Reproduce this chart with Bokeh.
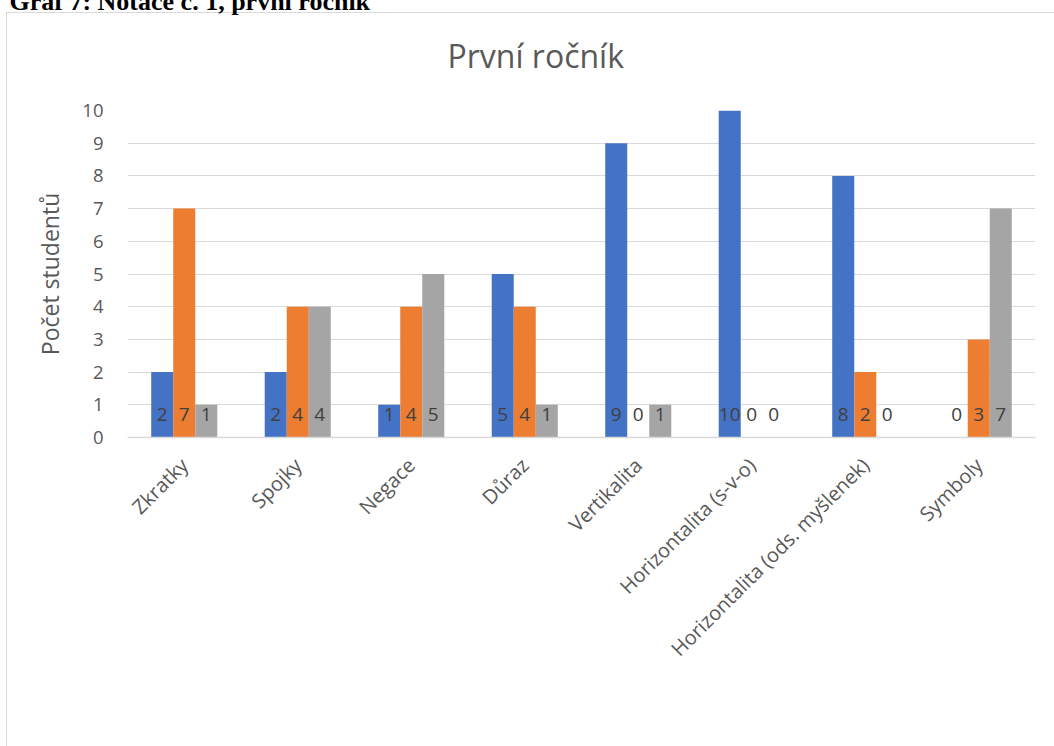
from math import pi

from bokeh.core.properties import value
from bokeh.embed import file_html
from bokeh.models import (ColumnDataSource, FixedTicker, Legend, LegendItem,
                          Title)
from bokeh.plotting import figure
from bokeh.resources import INLINE
from bokeh.transform import dodge

# Chart data
categories = ["Zkratky", "Spojky", "Negace", "Důraz", "Vertikalita",
              "Horizontalita (s-v-o)", "Horizontalita (ods. myšlenek)", "Symboly"]
nulty = [2, 2, 1, 5, 9, 10, 8, 0]
prvni = [7, 4, 4, 4, 0, 0, 2, 3]
druhy = [1, 4, 5, 1, 1, 0, 0, 7]
series_names = ["Nultý stupeň", "první stupeň", "Druhý stupeň"]
series_colors = ["#4472C4", "#ED7D31", "#A5A5A5"]
y_ticks = list(range(0, 11))

FONT = "Open Sans"
TEXT_COLOR = "#595959"
GRID_COLOR = "#D9D9D9"
BAR_W = 0.194

# light grey frame of the chart box (left and top edges), painted behind
# the transparent canvas
box_edges = ("linear-gradient(#D9D9D9, #D9D9D9) 6px 12px / 1048px 1px no-repeat, "
             "linear-gradient(#D9D9D9, #D9D9D9) 6px 12px / 1px 734px no-repeat")

source = ColumnDataSource(dict(
    cat=categories,
    nulty=nulty, prvni=prvni, druhy=druhy,
    nulty_t=[str(v) for v in nulty],
    prvni_t=[str(v) for v in prvni],
    druhy_t=[str(v) for v in druhy],
))

p = figure(x_range=categories, y_range=(0, 10),
           frame_width=908, frame_height=327,
           output_backend="svg", toolbar_location=None, tools="",
           min_border_left=127, min_border_right=19,
           min_border_top=110, min_border_bottom=309,
           styles={"background": box_edges})
p.title = None
p.outline_line_color = None
p.background_fill_color = "white"
p.border_fill_color = None

# Chart title next to the frame, document caption above it
p.add_layout(Title(text="První ročník", align="left", offset=320,
                   vertical_align="top", standoff=63,
                   text_font=FONT, text_font_style="normal",
                   text_font_size="32px", text_color=TEXT_COLOR), "above")
p.add_layout(Title(text="Graf 7: Notace č. 1, první ročník", align="left",
                   offset=-118, vertical_align="top", standoff=-29.8,
                   text_font="Liberation Serif", text_font_style="bold",
                   text_font_size="26px", text_color="black"), "above")

# Bars and their value labels, one dodged column per series
columns = ["nulty", "prvni", "druhy"]
offsets = [-BAR_W, 0.0, BAR_W]
legend_items = []
for col, off, name, color in zip(columns, offsets, series_names, series_colors):
    r = p.vbar(x=dodge("cat", off, range=p.x_range), top=col, width=BAR_W,
               source=source, fill_color=color, line_color=None)
    legend_items.append(LegendItem(label=name, renderers=[r]))
    p.text(x=dodge("cat", off, range=p.x_range), y=0, text=col + "_t",
           source=source, y_offset=-23, text_align="center",
           text_baseline="middle", text_color="#404040",
           text_font=value(FONT), text_font_size="19px")

# Axes and grid
p.yaxis.ticker = FixedTicker(ticks=y_ticks)
p.yaxis.axis_line_color = None
p.yaxis.major_tick_line_color = None
p.yaxis.major_tick_out = 0
p.yaxis.minor_tick_line_color = None
p.yaxis.major_label_text_font = FONT
p.yaxis.major_label_text_font_size = "18.5px"
p.yaxis.major_label_text_color = TEXT_COLOR
p.yaxis.major_label_standoff = 24
p.yaxis.axis_label = "Počet studentů"
p.yaxis.axis_label_text_font = FONT
p.yaxis.axis_label_text_font_style = "normal"
p.yaxis.axis_label_text_font_size = "23px"
p.yaxis.axis_label_text_color = TEXT_COLOR
p.yaxis.axis_label_standoff = 13

p.xaxis.axis_line_color = GRID_COLOR
p.xaxis.axis_line_width = 1.5
p.xaxis.major_tick_line_color = None
p.xaxis.minor_tick_line_color = None
p.xaxis.major_label_orientation = pi / 4
p.xaxis.major_label_text_font = FONT
p.xaxis.major_label_text_font_size = "20px"
p.xaxis.major_label_text_color = TEXT_COLOR
p.xaxis.major_label_standoff = 18

p.xgrid.grid_line_color = None
p.ygrid.grid_line_color = GRID_COLOR
p.ygrid.grid_line_width = 1.2

legend = Legend(items=legend_items, orientation="horizontal",
                location=(165, 44), glyph_width=13, glyph_height=13,
                label_text_font=FONT, label_text_font_size="21px",
                label_text_color=TEXT_COLOR, spacing=30,
                border_line_color=None, background_fill_alpha=0,
                padding=0, margin=15, label_standoff=6)
p.add_layout(legend, "below")

open("out.html", "w").write(file_html(p, INLINE))
